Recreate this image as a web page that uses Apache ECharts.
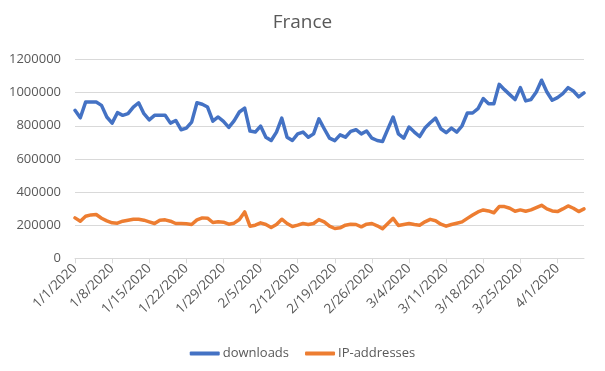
<!DOCTYPE html>
<html>
<head>
<meta charset="utf-8">
<script src="https://cdn.jsdelivr.net/npm/echarts@6/dist/echarts.min.js"></script>
<style>html,body{margin:0;padding:0;background:#fff}#c{width:605px;height:371px}</style>
</head>
<body>
<div id="c"></div>
<script>
const categories = [
"1/1/2020","1/2/2020","1/3/2020","1/4/2020","1/5/2020","1/6/2020","1/7/2020","1/8/2020","1/9/2020","1/10/2020",
"1/11/2020","1/12/2020","1/13/2020","1/14/2020","1/15/2020","1/16/2020","1/17/2020","1/18/2020","1/19/2020","1/20/2020",
"1/21/2020","1/22/2020","1/23/2020","1/24/2020","1/25/2020","1/26/2020","1/27/2020","1/28/2020","1/29/2020","1/30/2020",
"1/31/2020","2/1/2020","2/2/2020","2/3/2020","2/4/2020","2/5/2020","2/6/2020","2/7/2020","2/8/2020","2/9/2020",
"2/10/2020","2/11/2020","2/12/2020","2/13/2020","2/14/2020","2/15/2020","2/16/2020","2/17/2020","2/18/2020","2/19/2020",
"2/20/2020","2/21/2020","2/22/2020","2/23/2020","2/24/2020","2/25/2020","2/26/2020","2/27/2020","2/28/2020","2/29/2020",
"3/1/2020","3/2/2020","3/3/2020","3/4/2020","3/5/2020","3/6/2020","3/7/2020","3/8/2020","3/9/2020","3/10/2020",
"3/11/2020","3/12/2020","3/13/2020","3/14/2020","3/15/2020","3/16/2020","3/17/2020","3/18/2020","3/19/2020","3/20/2020",
"3/21/2020","3/22/2020","3/23/2020","3/24/2020","3/25/2020","3/26/2020","3/27/2020","3/28/2020","3/29/2020","3/30/2020",
"3/31/2020","4/1/2020","4/2/2020","4/3/2020","4/4/2020","4/5/2020","4/6/2020"
];

const downloads = [
893000,848000,943000,943000,943000,923000,853000,816000,879000,863000,
873000,913000,939000,873000,836000,863000,863000,863000,816000,832000,
776000,786000,822000,939000,930000,913000,828000,853000,826000,790000,
830000,883000,907000,768000,762000,798000,731000,711000,762000,846000,
731000,711000,751000,762000,731000,751000,842000,782000,725000,710000,
745000,731000,766000,776000,751000,768000,725000,711000,705000,780000,
853000,751000,725000,792000,762000,735000,786000,818000,846000,782000,
758000,786000,762000,800000,877000,877000,903000,964000,933000,933000,
1050000,1018000,988000,958000,1030000,950000,958000,1004000,1075000,1004000,
954000,970000,994000,1030000,1010000,974000,998000
];

const ipAddresses = [
244000,224000,254000,262000,264000,242000,226000,214000,212000,224000,
230000,236000,236000,230000,220000,210000,230000,232000,224000,210000,
210000,208000,204000,232000,244000,242000,216000,220000,218000,206000,
212000,234000,280000,194000,200000,214000,204000,186000,204000,236000,
210000,192000,200000,210000,204000,210000,234000,220000,194000,180000,
184000,200000,206000,204000,190000,206000,210000,196000,178000,210000,
241000,198000,204000,210000,204000,200000,220000,235000,227000,206000,
194000,204000,212000,220000,241000,261000,280000,292000,286000,275000,
312000,312000,302000,284000,292000,284000,292000,306000,320000,298000,
286000,282000,298000,316000,302000,282000,298000
];

const yTicks = [0, 200000, 400000, 600000, 800000, 1000000, 1200000];

const FONT = '"Open Sans", "Liberation Sans", sans-serif';
const chart = echarts.init(document.getElementById('c'), null, {renderer: 'canvas'});
chart.setOption({
  animation: false,
  backgroundColor: '#ffffff',
  title: {
    text: 'France',
    left: 'center',
    top: 8,
    textStyle: {fontFamily: FONT, fontSize: 19, fontWeight: 'normal', color: '#595959'}
  },
  legend: {
    bottom: 6,
    left: 'center',
    icon: 'roundRect',
    itemWidth: 30,
    itemHeight: 4,
    itemGap: 16,
    textStyle: {fontFamily: FONT, fontSize: 13, color: '#595959', padding: [0, 0, 0, -2]},
    data: ['downloads', 'IP-addresses']
  },
  grid: {left: 75, right: 21, top: 59.5, bottom: 112.7, containLabel: false},
  xAxis: {
    type: 'category',
    data: categories,
    boundaryGap: false,
    axisLine: {show: true, lineStyle: {color: '#d9d9d9', width: 1}},
    axisTick: {show: true, interval: 6, length: 5, lineStyle: {color: '#d9d9d9'}},
    axisLabel: {interval: 6, rotate: 45, margin: 8, fontFamily: FONT, fontSize: 13.5, color: '#595959'},
    splitLine: {show: false}
  },
  yAxis: {
    type: 'value',
    min: yTicks[0],
    max: yTicks[yTicks.length - 1],
    interval: 200000,
    axisLine: {show: false},
    axisTick: {show: false},
    axisLabel: {margin: 14, fontFamily: FONT, fontSize: 13, color: '#595959', formatter: function (v) { return String(v); }},
    splitLine: {lineStyle: {color: '#d9d9d9', width: 1}}
  },
  series: [
    {
      name: 'downloads', type: 'line', data: downloads, showSymbol: false, symbol: 'none',
      itemStyle: {color: '#4472C4'},
      lineStyle: {color: '#4472C4', width: 3.5, cap: 'round', join: 'round'}
    },
    {
      name: 'IP-addresses', type: 'line', data: ipAddresses, showSymbol: false, symbol: 'none',
      itemStyle: {color: '#ED7D31'},
      lineStyle: {color: '#ED7D31', width: 3.5, cap: 'round', join: 'round'}
    }
  ]
});
</script>
</body>
</html>
